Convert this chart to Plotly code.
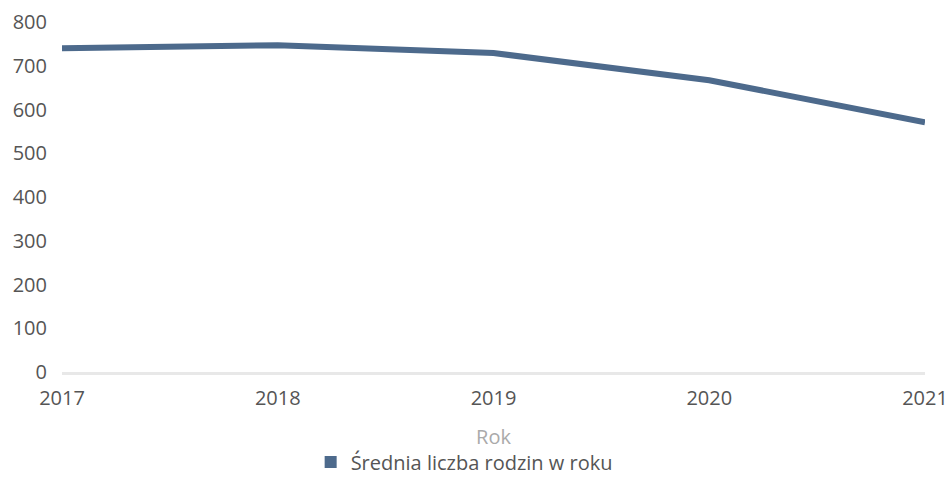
import plotly.graph_objects as go

years = [2017, 2018, 2019, 2020, 2021]
families = [740, 747, 729, 667, 571]
series_name = "Średnia liczba rodzin w roku"
y_ticks = [0, 100, 200, 300, 400, 500, 600, 700, 800]

line_color = "#4d6a8c"
font_family = "Open Sans"

fig = go.Figure()
fig.add_trace(go.Scatter(
    x=years, y=families, mode="lines",
    line=dict(color=line_color, width=6),
    showlegend=False, name=series_name,
))
fig.add_trace(go.Scatter(
    x=[None], y=[None], mode="markers",
    marker=dict(symbol="square", size=12, color=line_color),
    name=series_name, showlegend=True,
))

fig.update_layout(
    width=951, height=497,
    margin=dict(l=62, r=26, t=22, b=125),
    paper_bgcolor="white", plot_bgcolor="white",
    font=dict(family=font_family, size=20, color="#555555"),
    xaxis=dict(
        range=[2017, 2021], tickvals=years, ticktext=[str(y) for y in years],
        showgrid=False, zeroline=False, automargin=False,
        showline=True, linecolor="#e8e8e8", linewidth=3,
        ticks="", ticklabelstandoff=6, ticklabeloverflow="allow",
        title=dict(text="Rok", font=dict(color="#aaaaaa", size=20), standoff=20),
        tickfont=dict(color="#555555", size=20),
    ),
    yaxis=dict(
        range=[0, 800], tickvals=y_ticks,
        showgrid=False, zeroline=False, showline=False, automargin=False,
        ticks="", ticklabelstandoff=14,
        tickfont=dict(color="#555555", size=20),
    ),
    legend=dict(
        orientation="h", x=0.466, xanchor="center", y=-0.257, yanchor="middle",
        font=dict(size=20, color="#555555"),
    ),
)

fig.write_html(
    "out.html",
    config={"displayModeBar": False},
    post_script="document.body.style.margin='0';document.body.style.overflow='hidden';",
)
